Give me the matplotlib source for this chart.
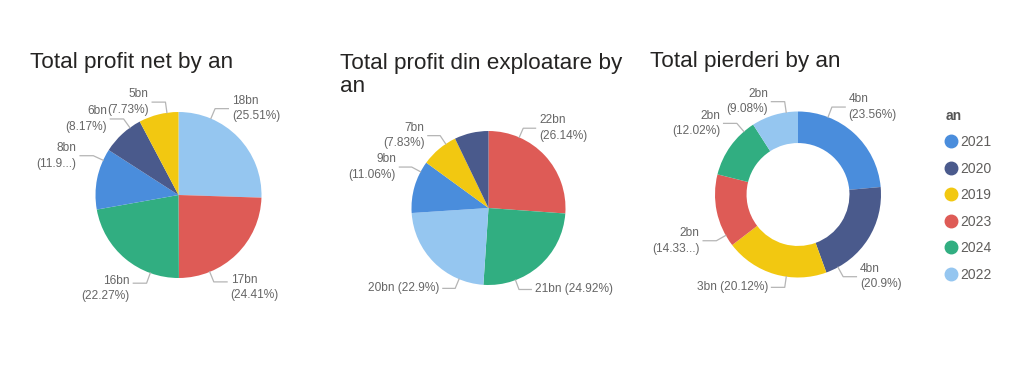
import matplotlib
matplotlib.use("Agg")
import matplotlib.pyplot as plt
import numpy as np
from matplotlib.lines import Line2D

# ---------------- data ----------------
years_legend = ["2021", "2020", "2019", "2023", "2024", "2022"]

net_years = ["2022", "2023", "2024", "2021", "2020", "2019"]
net_pct = [25.51, 24.41, 22.27, 11.91, 8.17, 7.73]
net_labels = ["18bn\n(25.51%)", "17bn\n(24.41%)", "16bn\n(22.27%)",
              "8bn\n(11.9...)", "6bn\n(8.17%)", "5bn\n(7.73%)"]

expl_years = ["2023", "2024", "2022", "2021", "2019", "2020"]
expl_pct = [26.14, 24.92, 22.90, 11.06, 7.83, 7.15]
expl_labels = ["22bn\n(26.14%)", "21bn (24.92%)", "20bn (22.9%)",
               "9bn\n(11.06%)", "7bn\n(7.83%)", ""]

loss_years = ["2021", "2020", "2019", "2023", "2024", "2022"]
loss_pct = [23.56, 20.90, 20.12, 14.33, 12.02, 9.08]
loss_labels = ["4bn\n(23.56%)", "4bn\n(20.9%)", "3bn (20.12%)",
               "2bn\n(14.33...)", "2bn\n(12.02%)", "2bn\n(9.08%)"]

titles = ["Total profit net by an",
          "Total profit din exploatare by\nan",
          "Total pierderi by an"]

# ---------------- style ----------------
COLORS = {"2021": "#4A8DDC", "2020": "#4A5A8C", "2019": "#F2C811",
          "2023": "#DE5B56", "2024": "#31AE81", "2022": "#95C6F0"}
FONT = "Liberation Sans"
LABEL_COLOR = "#666666"
LINE_COLOR = "#B5B5B5"
W, H = 1024, 370

fig = plt.figure(figsize=(W / 100, H / 100), dpi=100)
fig.patch.set_facecolor("white")


def make_ax(cx, cy, r, L=1.05):
    ax = fig.add_axes([(cx - r * L) / W, (H - cy - r * L) / H,
                       2 * r * L / W, 2 * r * L / H])
    return ax, L


def draw_pie(ax, L, pcts, years, labels, width=None):
    wp = dict(edgecolor="none", linewidth=0)
    if width is not None:
        wp["width"] = width
    wedges, _ = ax.pie(pcts, colors=[COLORS[y] for y in years],
                       startangle=90, counterclock=False, radius=1,
                       wedgeprops=wp)
    ax.set_xlim(-L, L)
    ax.set_ylim(-L, L)
    ax.set_aspect("equal")
    ax.axis("off")
    for w, lab in zip(wedges, labels):
        if not lab:
            continue
        t1, t2 = min(w.theta1, w.theta2), max(w.theta1, w.theta2)
        mid = (t1 + t2) / 2.0
        midn = ((mid + 180) % 360) - 180
        target = 90 if np.sin(np.radians(midn)) > 0 else -90
        ang = midn + 0.5 * (target - midn)
        d = ((ang - midn + 180) % 360) - 180
        half = (t2 - t1) / 2.0
        m = min(8.0, 0.3 * (t2 - t1))
        d = max(-(half - m), min(half - m, d))
        ang = np.radians(midn + d)
        c, s = np.cos(ang), np.sin(ang)
        sign = 1 if c >= 0 else -1
        p0 = (c * 1.0, s * 1.0)
        p1 = (c * 1.13, s * 1.13)
        p2 = (p1[0] + sign * 0.16, p1[1])
        ax.add_line(Line2D([p0[0], p1[0], p2[0]], [p0[1], p1[1], p2[1]],
                           color=LINE_COLOR, lw=0.9, clip_on=False))
        two = "\n" in lab
        if two and s < -0.9:
            va, dy = "top", 6
        else:
            va, dy = "center", 0
        ax.annotate(lab, xy=p2, xytext=(sign * 2.5, dy),
                    textcoords="offset points",
                    ha="left" if sign > 0 else "right", va=va,
                    fontsize=8.6, color=LABEL_COLOR, family=FONT,
                    linespacing=1.4, annotation_clip=False)


ax1, L1 = make_ax(178.5, 195, 83)
draw_pie(ax1, L1, net_pct, net_years, net_labels)

ax2, L2 = make_ax(488.5, 208, 77)
draw_pie(ax2, L2, expl_pct, expl_years, expl_labels)

ax3, L3 = make_ax(798, 194.5, 83)
draw_pie(ax3, L3, loss_pct, loss_years, loss_labels, width=0.38)

# titles (y = baseline of the last line, in pixels from top)
for (x, y), t in zip([(30, 68), (340, 92), (650, 67)], titles):
    fig.text(x / W, 1 - y / H, t, fontsize=16.2, family=FONT,
             color="#252423", va="baseline", ha="left", linespacing=1.1)

# legend
handles = [Line2D([], [], marker="o", linestyle="none", markersize=9,
                  markerfacecolor=COLORS[y], markeredgecolor=COLORS[y])
           for y in years_legend]
leg = fig.legend(handles, years_legend, loc="upper left",
                 bbox_to_anchor=(940 / W, 1 - 103 / H), frameon=False,
                 title="an", alignment="left", handlelength=0.8,
                 handletextpad=0.25, labelspacing=0.9, borderaxespad=0,
                 prop={"family": FONT, "size": 10},
                 title_fontproperties={"family": FONT, "size": 10,
                                       "weight": "bold"})
leg.get_title().set_color("#555555")
for txt in leg.get_texts():
    txt.set_color("#605E5C")

fig.savefig("out.png", dpi=100, facecolor="white")
